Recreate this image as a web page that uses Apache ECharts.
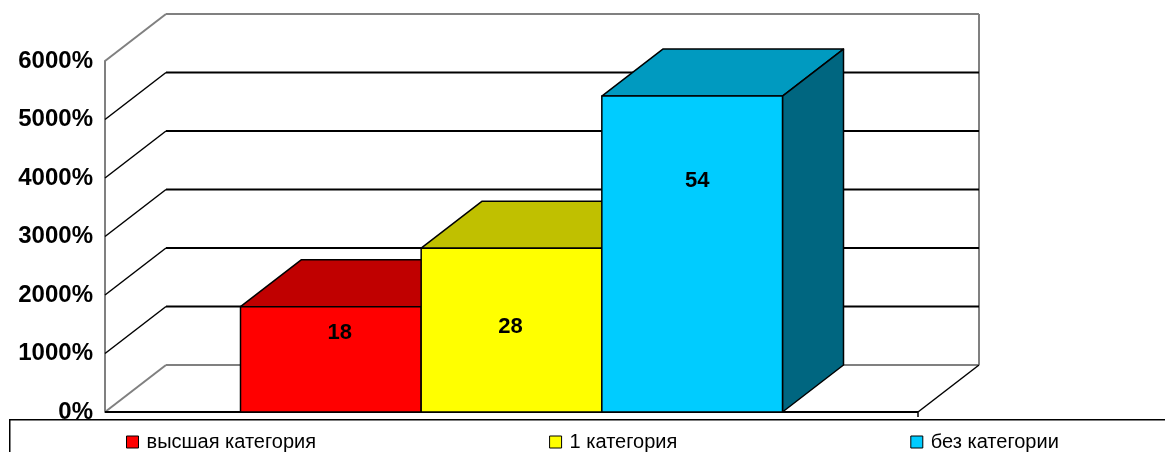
<!DOCTYPE html>
<html lang="ru">
<head>
    <meta charset="UTF-8">
    <title>Категории</title>
    <style>
        * { margin: 0; padding: 0; }
        html, body { width: 1165px; height: 452px; background: #fff; overflow: hidden; }
        #chart { width: 1165px; height: 452px; }
    </style>
</head>
<body>
    <div id="chart"></div>

    <script src="https://cdn.jsdelivr.net/npm/echarts@6/dist/echarts.min.js"></script>
    <script>
        // данные
        const categories = [''];
        const seriesNames = ['высшая категория', '1 категория', 'без категории'];
        const values = [18, 28, 54];
        const valueTicks = [0, 10, 20, 30, 40, 50, 60];

        // цвета граней: перед, верх, бок
        const frontColors = ['#ff0000', '#ffff00', '#00ccff'];
        const topColors = ['#c00000', '#c0c000', '#009ac0'];
        const sideColors = ['#990000', '#999900', '#006680'];

        // псевдо-3D
        const DX = 61, DY = -47;
        const GAP = 0.5;
        const labelFrac = [0.25, 0.48, 0.27];
        const labelNudge = [9, -1, 5];
        const FONT = '"Liberation Sans", Arial, sans-serif';

        const chart = echarts.init(document.getElementById('chart'));

        function line(x1, y1, x2, y2, color, w) {
            return {
                type: 'line',
                shape: { x1: x1, y1: y1, x2: x2, y2: y2 },
                style: { stroke: color, lineWidth: w }
            };
        }

        // стенки и пол
        function renderWall(params, api) {
            const v = api.value(1);
            const band = api.size([1, 0])[0];
            const c = api.coord([0, v]);
            const x0 = c[0] - band / 2, x1 = c[0] + band / 2, y = c[1];
            const edge = v === valueTicks[0] || v === valueTicks[valueTicks.length - 1];
            const col = edge ? '#808080' : '#000';
            const children = [
                line(x0, y, x0 + DX, y + DY, col, edge ? 2 : 1.5),
                line(x0 + DX, y + DY, x1 + DX, y + DY, col, 2)
            ];
            if (v === 0) {
                const yTop = api.coord([0, valueTicks[valueTicks.length - 1]])[1];
                children.push(line(x1 + DX, y + DY, x1 + DX, yTop + DY, '#808080', 2));
                children.push(line(x0, y, x1, y, '#000', 2));
                children.push(line(x1, y, x1 + DX, y + DY, '#000', 1.5));
                children.push(line(x1, y, x1, y + 5, '#000', 1.5));
            }
            return { type: 'group', children: children };
        }

        // столбцы
        function renderBar(params, api) {
            const i = params.seriesIndex - 1;
            const band = api.size([1, 0])[0];
            const groupW = band / (1 + GAP);
            const w = groupW / seriesNames.length;
            const base = api.coord([0, 0]);
            const top = api.coord([0, api.value(1)]);
            const x = base[0] - groupW / 2 + i * w;
            const yb = base[1], yt = top[1];
            const stroke = { stroke: '#000', lineWidth: 1.5, lineJoin: 'round' };
            return {
                type: 'group',
                children: [
                    {
                        type: 'polygon',
                        shape: { points: [[x, yt], [x + DX, yt + DY], [x + w + DX, yt + DY], [x + w, yt]] },
                        style: Object.assign({ fill: topColors[i] }, stroke)
                    },
                    {
                        type: 'polygon',
                        shape: { points: [[x + w, yt], [x + w + DX, yt + DY], [x + w + DX, yb + DY], [x + w, yb]] },
                        style: Object.assign({ fill: sideColors[i] }, stroke)
                    },
                    {
                        type: 'rect',
                        shape: { x: x, y: yt, width: w, height: yb - yt },
                        style: Object.assign({ fill: frontColors[i] }, stroke)
                    },
                    {
                        type: 'text',
                        x: x + w / 2 + labelNudge[i],
                        y: yt + (yb - yt) * labelFrac[i],
                        style: {
                            text: String(api.value(1)),
                            fill: '#000',
                            fontSize: 22,
                            fontWeight: 'bold',
                            fontFamily: FONT,
                            align: 'center',
                            verticalAlign: 'middle'
                        }
                    }
                ]
            };
        }

        const series = [{
            type: 'custom',
            name: 'walls',
            silent: true,
            renderItem: renderWall,
            data: valueTicks.map(v => [0, v]),
            z: 1
        }];
        seriesNames.forEach((name, i) => {
            series.push({
                type: 'custom',
                name: name,
                renderItem: renderBar,
                itemStyle: { color: frontColors[i] },
                data: [[0, values[i]]],
                z: 2
            });
        });

        chart.setOption({
            animation: false,
            backgroundColor: '#fff',
            grid: { left: 105, right: 247, top: 61, bottom: 40 },
            xAxis: {
                type: 'category',
                data: categories,
                axisLine: { show: false },
                axisTick: { show: false },
                axisLabel: { show: false }
            },
            yAxis: {
                type: 'value',
                min: 0,
                max: 60,
                interval: 10,
                axisLine: { show: true, lineStyle: { color: '#808080', width: 2 } },
                axisTick: { show: false },
                splitLine: { show: false },
                axisLabel: {
                    margin: 12,
                    color: '#000',
                    fontWeight: 'bold',
                    fontSize: 24,
                    fontFamily: FONT,
                    formatter: v => (v * 100) + '%'
                }
            },
            graphic: [{
                type: 'rect',
                z: 3,
                left: 9,
                top: 419,
                shape: { width: 1200, height: 60 },
                style: { fill: '#fff', stroke: '#000', lineWidth: 1.5 }
            }],
            legend: {
                data: seriesNames,
                left: 126,
                top: 432,
                padding: 0,
                itemGap: 233,
                itemWidth: 12,
                itemHeight: 12,
                icon: 'rect',
                itemStyle: { borderColor: '#000', borderWidth: 1 },
                textStyle: {
                    color: '#000',
                    fontSize: 20,
                    fontFamily: FONT,
                    padding: [0, 0, 0, 3]
                },
                z: 5
            },
            series: series
        });
    </script>
</body>
</html>
